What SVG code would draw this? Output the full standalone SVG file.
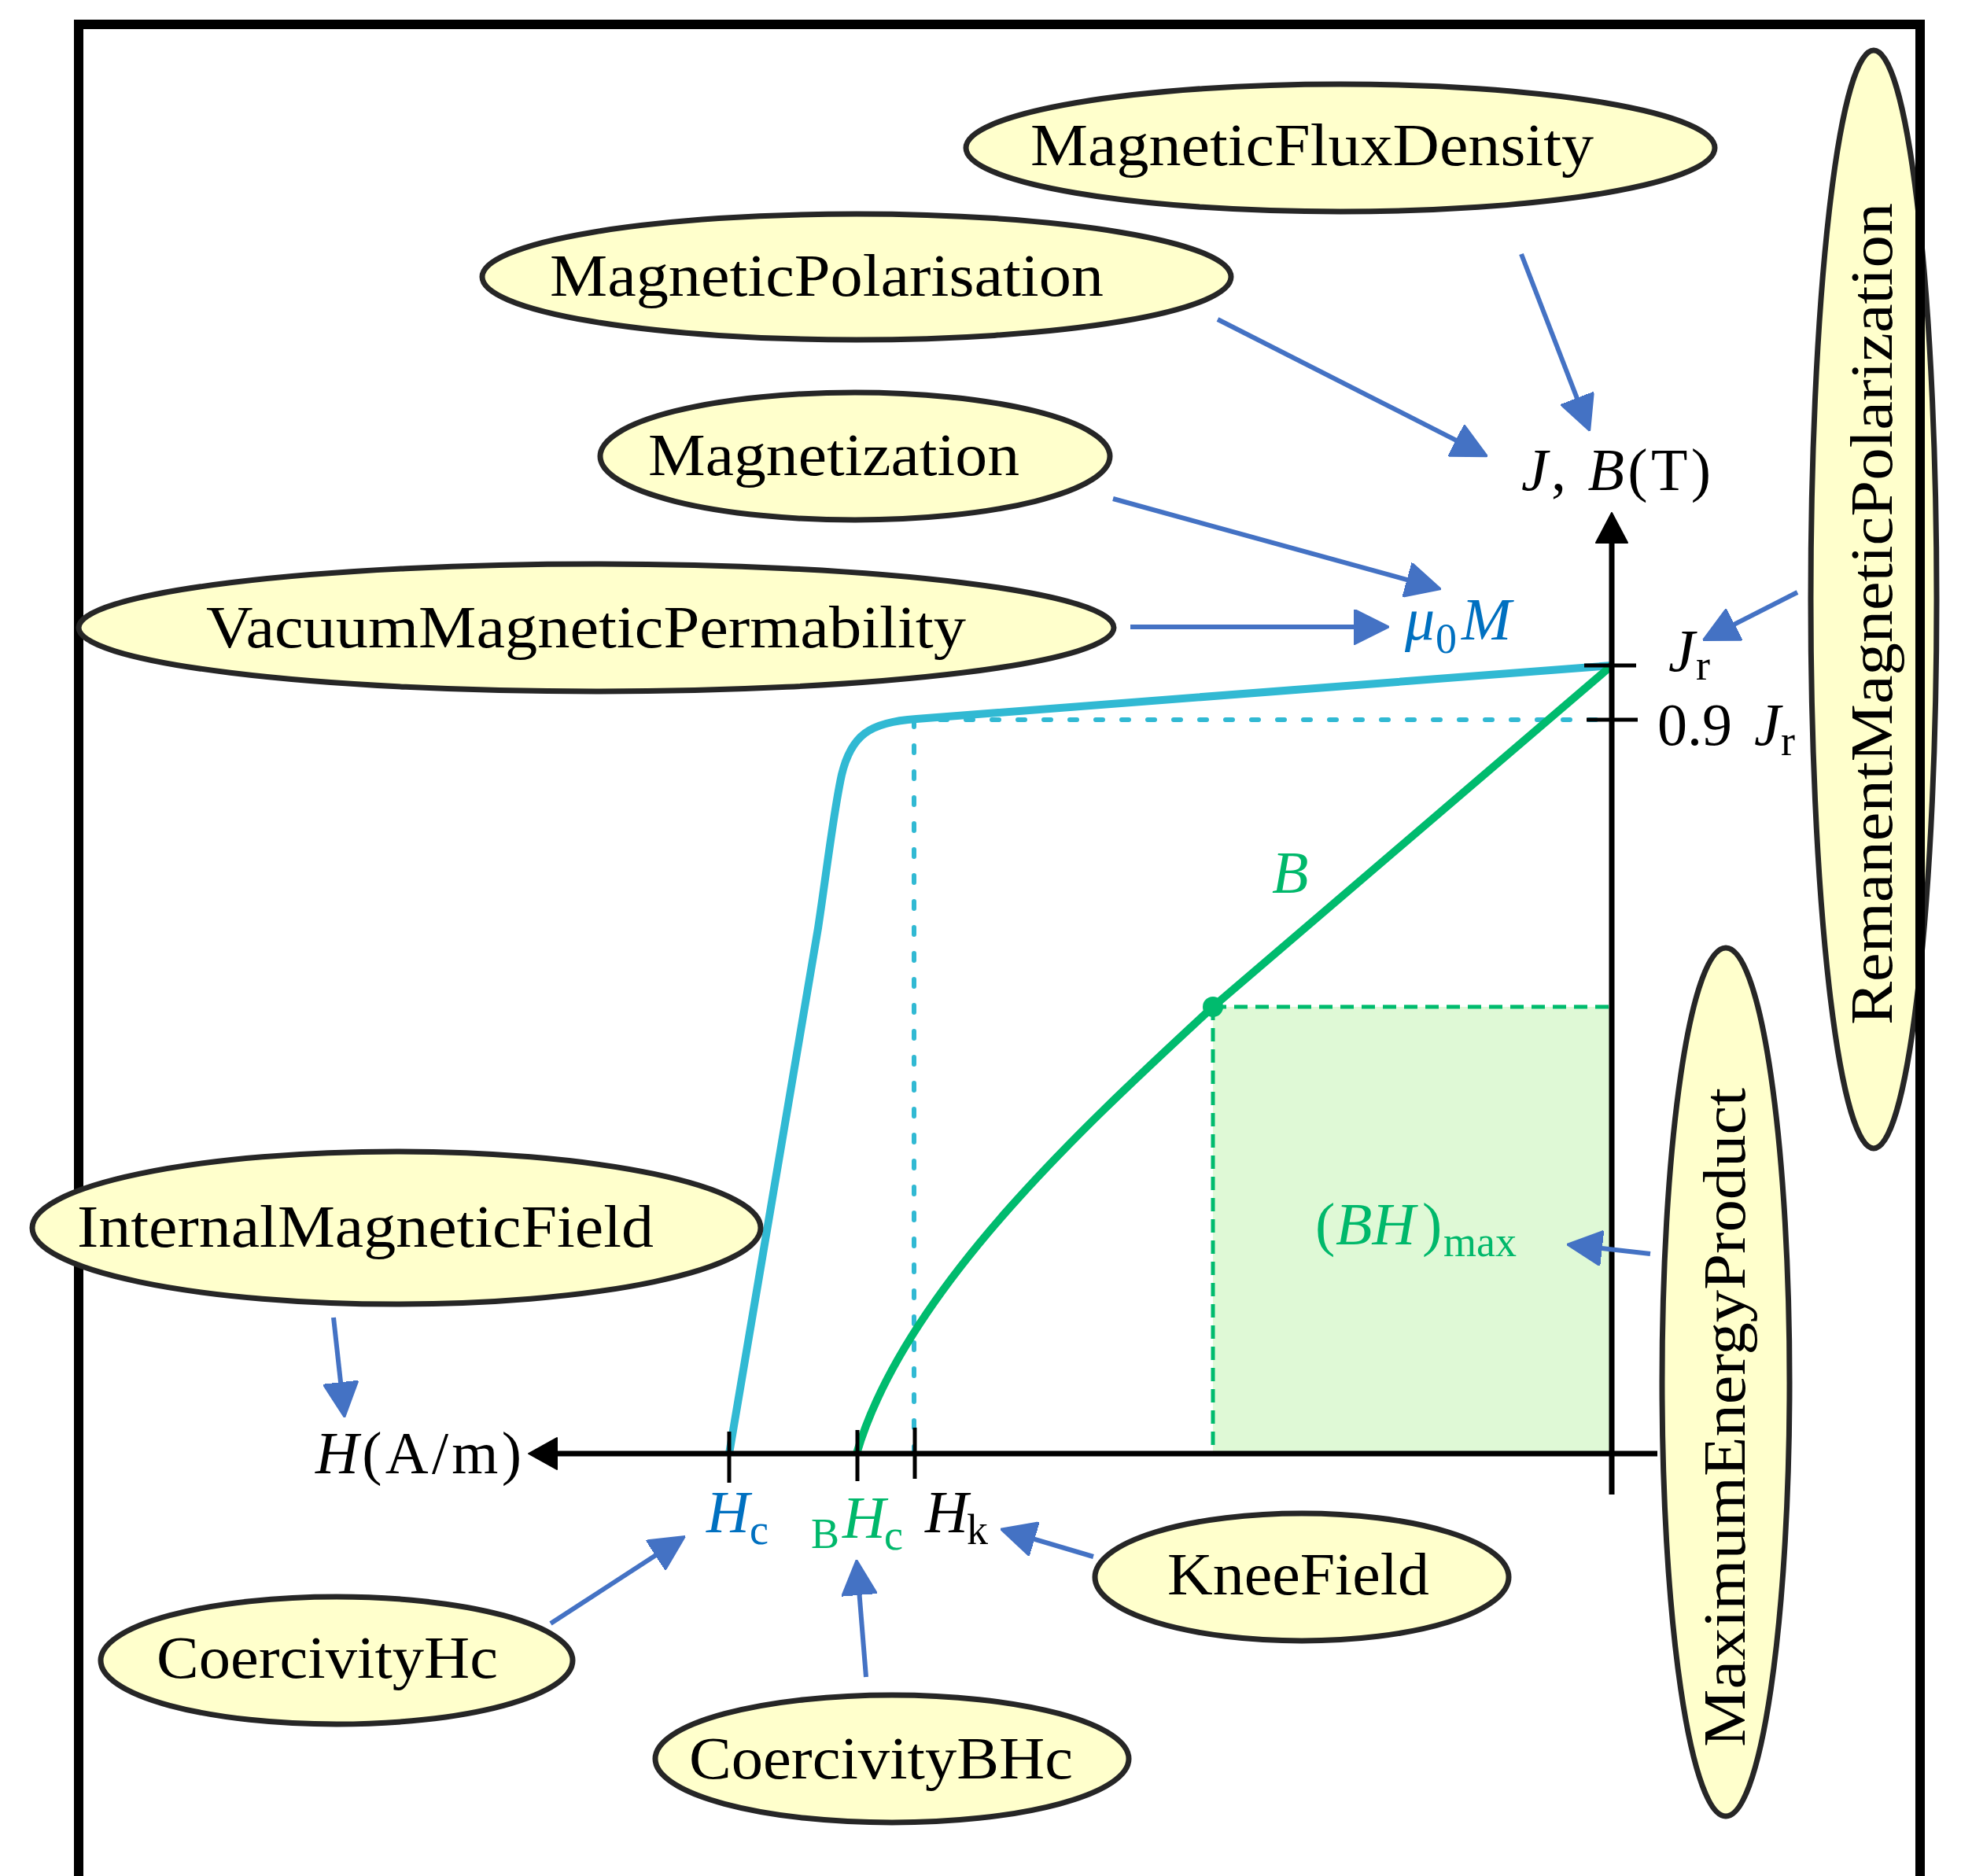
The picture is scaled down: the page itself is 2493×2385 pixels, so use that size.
<svg xmlns="http://www.w3.org/2000/svg" width="2493" height="2385" viewBox="0 0 2493 2385">
<style>
.node ellipse{fill:#ffffcc;stroke:#262626;stroke-width:7}
.node text{font-family:"Liberation Serif",serif;font-size:76px;fill:#000}
.conn line{stroke:#4472c4;stroke-width:6;marker-end:url(#ah)}
.m{font-family:"Liberation Serif",serif;font-size:76px;fill:#000}
.it{font-style:italic}
.sub{font-size:54px;font-style:normal}
.blue{fill:#0070c0}
.green{fill:#00b86b}
.ax{stroke:#000;stroke-width:7;fill:none}
.tick{stroke:#000;stroke-width:5;fill:none}
</style>
<defs>
<marker id="ah" viewBox="0 0 10 10" refX="6" refY="5" markerWidth="7.5" markerHeight="7.5" orient="auto" markerUnits="strokeWidth">
<path d="M0,0 L10,5 L0,10 z" fill="#4472c4" stroke="#4472c4" stroke-width="0.5" stroke-linejoin="round"/>
</marker>
</defs>
<rect width="2493" height="2385" fill="#fff"/>

<g id="RemanentMagneticPolarization" class="node">
<ellipse cx="2382" cy="762" rx="80" ry="698"/>
<text transform="translate(2405,1303) rotate(-90)" x="0" y="0" textLength="1045" lengthAdjust="spacingAndGlyphs">RemanentMagneticPolarization</text>
</g>

<rect id="frame" x="100" y="31" width="2341" height="2420" fill="none" stroke="#000" stroke-width="12"/>

<g id="plot">
<rect x="1542" y="1280" width="507" height="568" fill="#dff9d6"/>
<path d="M1542,1280 H2049 M1542,1280 V1848" stroke="#00bb6e" stroke-width="5" stroke-dasharray="17 10" fill="none"/>
<path d="M1162,915 H2049 M1162,915 V1848" stroke="#31b9d3" stroke-width="6" stroke-dasharray="9 24" stroke-linecap="round" fill="none"/>
<path d="M2049,846 L1165,914 C1105,918 1082,935 1070,985 C1060,1030 1052,1100 1040,1180 L927,1848" stroke="#31b9d3" stroke-width="10" fill="none" stroke-linejoin="round"/>
<path d="M2049,846 L1542,1280 C1380,1430 1150,1640 1089,1848" stroke="#00bb6e" stroke-width="10" fill="none" stroke-linejoin="round"/>
<path class="ax" d="M2049,1900 V686"/>
<polygon points="2049,652 2029,690 2069,690" fill="#000" stroke="#000" stroke-width="2" stroke-linejoin="round"/>
<path class="ax" d="M2107,1848 H704"/>
<polygon points="672,1848 708,1828 708,1868" fill="#000" stroke="#000" stroke-width="2" stroke-linejoin="round"/>
<path class="tick" d="M2014,846 H2080 M2017,915 H2082 M927,1820 V1885 M1090,1818 V1883 M1163,1815 V1880"/>
<circle cx="1542" cy="1280" r="13" fill="#00bb6e"/>
</g>

<g id="labels">
<text class="m" y="623" textLength="241" lengthAdjust="spacing"><tspan x="1934" class="it">J</tspan><tspan>, </tspan><tspan class="it">B</tspan><tspan>(T)</tspan></text>
<text class="m blue" y="813"><tspan x="1786" class="it">μ</tspan><tspan x="1825" y="830" class="sub">0</tspan><tspan x="1858" y="813" class="it">M</tspan></text>
<text class="m" y="853"><tspan x="2121" class="it">J</tspan><tspan x="2156" y="864" class="sub">r</tspan></text>
<text class="m" y="947"><tspan x="2107">0.9</tspan><tspan x="2230" class="it">J</tspan><tspan x="2264" y="960" class="sub">r</tspan></text>
<text class="m green it" x="1617" y="1135">B</text>
<text class="m green" y="1582"><tspan x="1672">(</tspan><tspan x="1698" class="it">BH</tspan><tspan x="1808">)</tspan><tspan x="1835" y="1597" class="sub">max</tspan></text>
<text class="m" y="1873" textLength="262" lengthAdjust="spacing"><tspan x="401" class="it">H</tspan><tspan>(A/m)</tspan></text>
<text class="m blue" y="1948"><tspan x="898" class="it">H</tspan><tspan x="953" y="1963" class="sub">c</tspan></text>
<text class="m green" y="1955"><tspan x="1031" y="1968" class="sub">B</tspan><tspan x="1071" y="1955" class="it">H</tspan><tspan x="1124" y="1970" class="sub">c</tspan></text>
<text class="m" y="1948"><tspan x="1176" class="it">H</tspan><tspan x="1229" y="1963" class="sub">k</tspan></text>
</g>

<g id="MagneticFluxDensity" class="node">
<ellipse cx="1704" cy="188" rx="476" ry="81"/>
<text x="1310" y="210" textLength="716" lengthAdjust="spacingAndGlyphs">MagneticFluxDensity</text>
</g>
<g id="MagneticPolarisation" class="node">
<ellipse cx="1089" cy="352" rx="476" ry="80"/>
<text x="699" y="376" textLength="704" lengthAdjust="spacingAndGlyphs">MagneticPolarisation</text>
</g>
<g id="Magnetization" class="node">
<ellipse cx="1087" cy="580" rx="324" ry="81"/>
<text x="824" y="604" textLength="472" lengthAdjust="spacingAndGlyphs">Magnetization</text>
</g>
<g id="VacuumMagneticPermability" class="node">
<ellipse cx="758" cy="798" rx="658" ry="81"/>
<text x="262" y="823" textLength="966" lengthAdjust="spacingAndGlyphs">VacuumMagneticPermability</text>
</g>
<g id="InternalMagneticField" class="node">
<ellipse cx="504" cy="1561" rx="463" ry="97"/>
<text x="98" y="1585" textLength="733" lengthAdjust="spacingAndGlyphs">InternalMagneticField</text>
</g>
<g id="CoercivityHc" class="node">
<ellipse cx="428" cy="2111" rx="300" ry="81"/>
<text x="199" y="2133" textLength="434" lengthAdjust="spacingAndGlyphs">CoercivityHc</text>
</g>
<g id="CoercivityBHc" class="node">
<ellipse cx="1134" cy="2236" rx="301" ry="81"/>
<text x="876" y="2261" textLength="488" lengthAdjust="spacingAndGlyphs">CoercivityBHc</text>
</g>
<g id="KneeField" class="node">
<ellipse cx="1655" cy="2005" rx="263" ry="81"/>
<text x="1484" y="2027" textLength="333" lengthAdjust="spacingAndGlyphs">KneeField</text>
</g>
<g id="MaximumEnergyProduct" class="node">
<ellipse cx="2194" cy="1757" rx="81" ry="552"/>
<text transform="translate(2218,2221) rotate(-90)" x="0" y="0" textLength="838" lengthAdjust="spacingAndGlyphs">MaximumEnergyProduct</text>
</g>

<g id="connectors" class="conn">
<line x1="1934" y1="323" x2="2014.5" y2="531.2"/>
<line x1="1548" y1="406" x2="1874.9" y2="571.9"/>
<line x1="1415" y1="634" x2="1814.6" y2="744.2"/>
<line x1="1437" y1="797" x2="1748" y2="797"/>
<line x1="2285" y1="753" x2="2181" y2="805.8"/>
<line x1="2098" y1="1594" x2="2009.9" y2="1584"/>
<line x1="424" y1="1675" x2="436" y2="1784.1"/>
<line x1="700" y1="2064" x2="855.9" y2="1962.8"/>
<line x1="1101" y1="2132" x2="1090.4" y2="2000.9"/>
<line x1="1390" y1="1979" x2="1289.3" y2="1949.1"/>
</g>
</svg>
